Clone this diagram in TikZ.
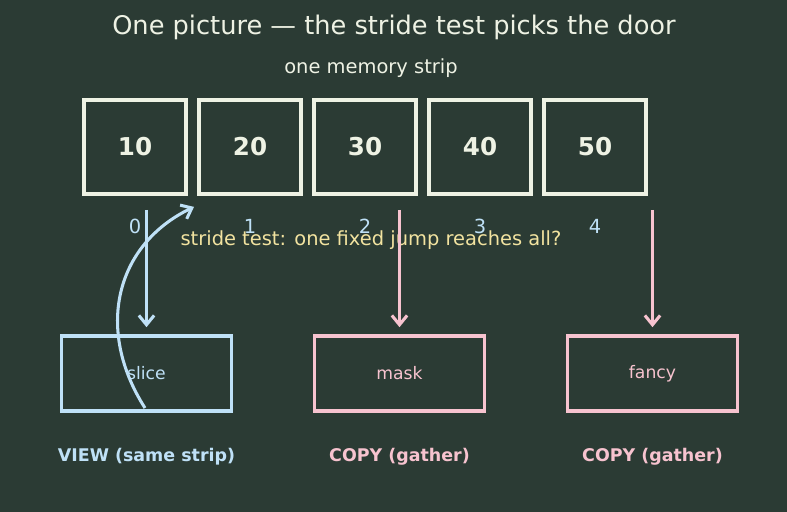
\documentclass[tikz,border=0pt]{standalone}
\usepackage{fontspec}
\setmainfont{DejaVu Sans}
\usepackage{xcolor}
\usetikzlibrary{arrows.meta,positioning}

\definecolor{bgdark}{HTML}{2B3B34}
\definecolor{cellline}{HTML}{EEF2E4}
\definecolor{viewblue}{HTML}{BFE1F7}
\definecolor{copypink}{HTML}{F7C3CF}
\definecolor{testyellow}{HTML}{F2E3A0}

\tikzset{
  cellbox/.style={draw=cellline,line width=3.4pt,minimum width=3.07cm,minimum height=2.84cm,
    text=cellline,font=\bfseries\fontsize{21}{24}\selectfont},
  kindbox/.style={line width=3.3pt,minimum width=5.1cm,minimum height=2.24cm,font=\fontsize{14.7}{17}\selectfont},
  kindlbl/.style={font=\bfseries\fontsize{14.9}{17}\selectfont},
  jump/.style={line width=2.6pt,-{Straight Barb[length=8pt,width=13pt,line width=2.6pt]}}
}

\begin{document}
\begin{tikzpicture}[x=0.03cm,y=-0.03cm]
\fill[bgdark] (0,0) rectangle (787,512);
\useasboundingbox (0,0) rectangle (787,512);

\node[text=cellline,font=\fontsize{21.9}{25}\selectfont] (title) at (394,27) {One picture — the stride test picks the door};
\node[text=cellline,font=\fontsize{16.6}{19}\selectfont] (strip) at (371,68) {one memory strip};

% the strip
\foreach \v [count=\i from 0] in {10,20,30,40,50} {
  \node[cellbox] (cell\i) at (135+115*\i,147) {\v};
  \node[text=viewblue,font=\fontsize{16.6}{19}\selectfont] (idx\i) at (135+115*\i,226) {\i};
}

\node[text=testyellow,font=\fontsize{16.6}{19}\selectfont] (test) at (371,240) {stride test: one fixed jump reaches all?};

% the three doors
\node[kindbox,draw=viewblue,text=viewblue] (slice) at (146.5,373.5) {slice};
\node[kindbox,draw=copypink,text=copypink] (mask) at (399.5,373.5) {mask};
\node[kindbox,draw=copypink,text=copypink] (fancy) at (652.5,373.5) {fancy};

\node[kindlbl,text=viewblue] (slicelbl) at (146.5,457) {VIEW (same strip)};
\node[kindlbl,text=copypink] (masklbl) at (399.5,457) {COPY (gather)};
\node[kindlbl,text=copypink] (fancylbl) at (652.5,457) {COPY (gather)};

\coordinate (top) at (0,210);
\draw[jump,draw=viewblue,shorten >=6pt] (slice.north |- top) -- (slice.north);
\draw[jump,draw=copypink,shorten >=6pt] (mask.north |- top) -- (mask.north);
\draw[jump,draw=copypink,shorten >=6pt] (fancy.north |- top) -- (fancy.north);

% view goes back to the same strip
\coordinate (back) at (145,408);
\draw[jump,draw=viewblue] (back) .. controls (95,330) and (115,245) .. ([xshift=5pt,yshift=-9pt]cell0.south east);
\end{tikzpicture}
\end{document}
